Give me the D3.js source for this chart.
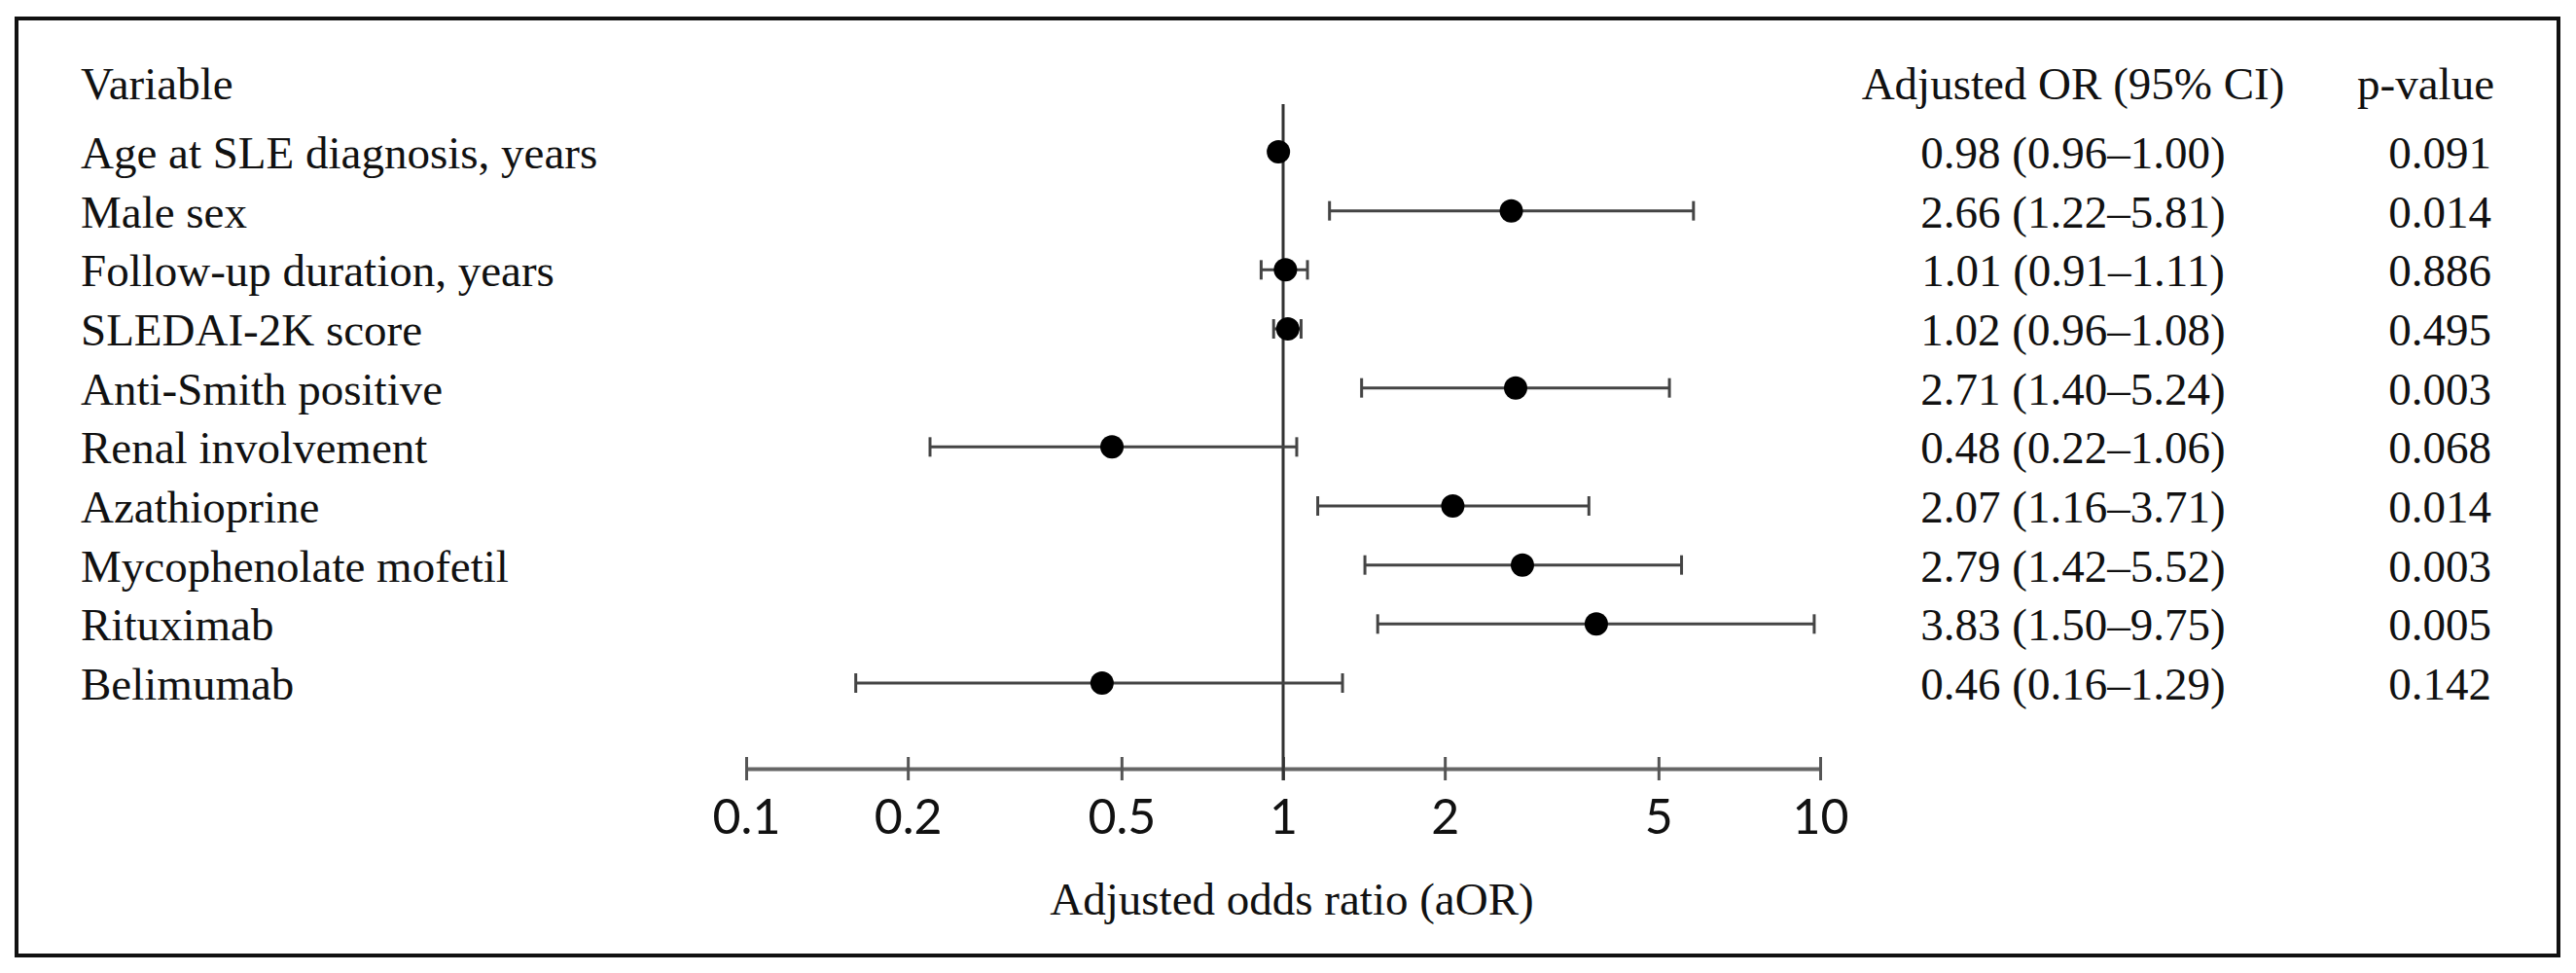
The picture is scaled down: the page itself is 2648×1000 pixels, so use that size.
<!DOCTYPE html>
<html>
<head>
<meta charset="utf-8">
<script src="https://cdn.jsdelivr.net/npm/d3@7"></script>
<style>
  html, body { margin: 0; padding: 0; background: #fff; }
  svg { display: block; }
  .serif { font-family: "Liberation Serif", "DejaVu Serif", serif; font-size: 47px; fill: #111; }
  .axis text { font-family: Lato, "Open Sans", sans-serif; font-size: 50px; fill: #111; }
</style>
</head>
<body>
<svg id="chart" width="2648" height="1000"></svg>
<script>
  'use strict';

  var variables = [
    'Age at SLE diagnosis, years',
    'Male sex',
    'Follow-up duration, years',
    'SLEDAI-2K score',
    'Anti-Smith positive',
    'Renal involvement',
    'Azathioprine',
    'Mycophenolate mofetil',
    'Rituximab',
    'Belimumab'
  ];
  var oddsRatios = [0.98, 2.66, 1.01, 1.02, 2.71, 0.48, 2.07, 2.79, 3.83, 0.46];
  var ciLower = [0.96, 1.22, 0.91, 0.96, 1.40, 0.22, 1.16, 1.42, 1.50, 0.16];
  var ciUpper = [1.00, 5.81, 1.11, 1.08, 5.24, 1.06, 3.71, 5.52, 9.75, 1.29];
  var pValues = ['0.091', '0.014', '0.886', '0.495', '0.003', '0.068', '0.014', '0.003', '0.005', '0.142'];
  var tickValues = [0.1, 0.2, 0.5, 1, 2, 5, 10];

  var rows = variables.map(function(name, i)
  {
    return {name: name, or: oddsRatios[i], lo: ciLower[i], hi: ciUpper[i], p: pValues[i]};
  });

  var svg = d3.select('#chart');

  svg.append('rect')
    .attr('x', 0).attr('y', 0)
    .attr('width', 2648).attr('height', 1000)
    .attr('fill', '#fff');

  // outer frame
  svg.append('rect')
    .attr('x', 17).attr('y', 19)
    .attr('width', 2613).attr('height', 963)
    .attr('fill', 'none')
    .attr('stroke', '#111')
    .attr('stroke-width', 4);

  var x = d3.scaleLog().domain([0.1, 10]).range([767, 1871]);
  var y = d3.scalePoint().domain(variables).range([156, 702]);
  var axisY = 790;

  // headers
  svg.append('text').attr('class', 'serif').attr('x', 83).attr('y', 102).text('Variable');
  svg.append('text').attr('class', 'serif').attr('x', 2131).attr('y', 102)
    .attr('text-anchor', 'middle').text('Adjusted OR (95% CI)');
  svg.append('text').attr('class', 'serif').attr('x', 2564).attr('y', 102)
    .attr('text-anchor', 'end').text('p-value');

  // axis
  var axisG = svg.append('g')
    .attr('class', 'axis')
    .attr('transform', 'translate(0,' + axisY + ')')
    .call(d3.axisBottom(x)
      .tickValues(tickValues)
      .tickFormat(function(d) { return String(d); })
      .tickSizeOuter(0));

  axisG.select('.domain')
    .attr('stroke', '#666')
    .attr('stroke-width', 4);
  axisG.selectAll('.tick line')
    .attr('y1', -12).attr('y2', 12)
    .attr('stroke', '#555')
    .attr('stroke-width', 3);
  axisG.selectAll('.tick text')
    .attr('y', 67).attr('dy', 0);

  svg.append('text').attr('class', 'serif')
    .attr('x', 1328).attr('y', 940)
    .attr('text-anchor', 'middle')
    .text('Adjusted odds ratio (aOR)');

  // reference line at 1
  svg.append('line')
    .attr('x1', x(1)).attr('x2', x(1))
    .attr('y1', 107).attr('y2', axisY + 12)
    .attr('stroke', '#333')
    .attr('stroke-width', 3);

  var rowG = svg.selectAll('g.row')
    .data(rows)
    .enter().append('g')
    .attr('class', 'row');

  rowG.append('text').attr('class', 'serif')
    .attr('x', 83)
    .attr('y', function(d) { return y(d.name) + 17; })
    .text(function(d) { return d.name; });

  rowG.append('text').attr('class', 'serif')
    .attr('x', 2131)
    .attr('y', function(d) { return y(d.name) + 17; })
    .attr('text-anchor', 'middle')
    .text(function(d) { return d.or.toFixed(2) + ' (' + d.lo.toFixed(2) + '\u2013' + d.hi.toFixed(2) + ')'; });

  rowG.append('text').attr('class', 'serif')
    .attr('x', 2561)
    .attr('y', function(d) { return y(d.name) + 17; })
    .attr('text-anchor', 'end')
    .text(function(d) { return d.p; });

  // confidence intervals
  rowG.append('line')
    .attr('x1', function(d) { return x(d.lo); })
    .attr('x2', function(d) { return x(d.hi); })
    .attr('y1', function(d) { return y(d.name); })
    .attr('y2', function(d) { return y(d.name); })
    .attr('stroke', '#444')
    .attr('stroke-width', 3);

  ['lo', 'hi'].forEach(function(k)
  {
    rowG.append('line')
      .attr('x1', function(d) { return x(d[k]); })
      .attr('x2', function(d) { return x(d[k]); })
      .attr('y1', function(d) { return y(d.name) - 10; })
      .attr('y2', function(d) { return y(d.name) + 10; })
      .attr('stroke', '#444')
      .attr('stroke-width', 3);
  });

  rowG.append('circle')
    .attr('cx', function(d) { return x(d.or); })
    .attr('cy', function(d) { return y(d.name); })
    .attr('r', 12)
    .attr('fill', '#000');
</script>
</body>
</html>
